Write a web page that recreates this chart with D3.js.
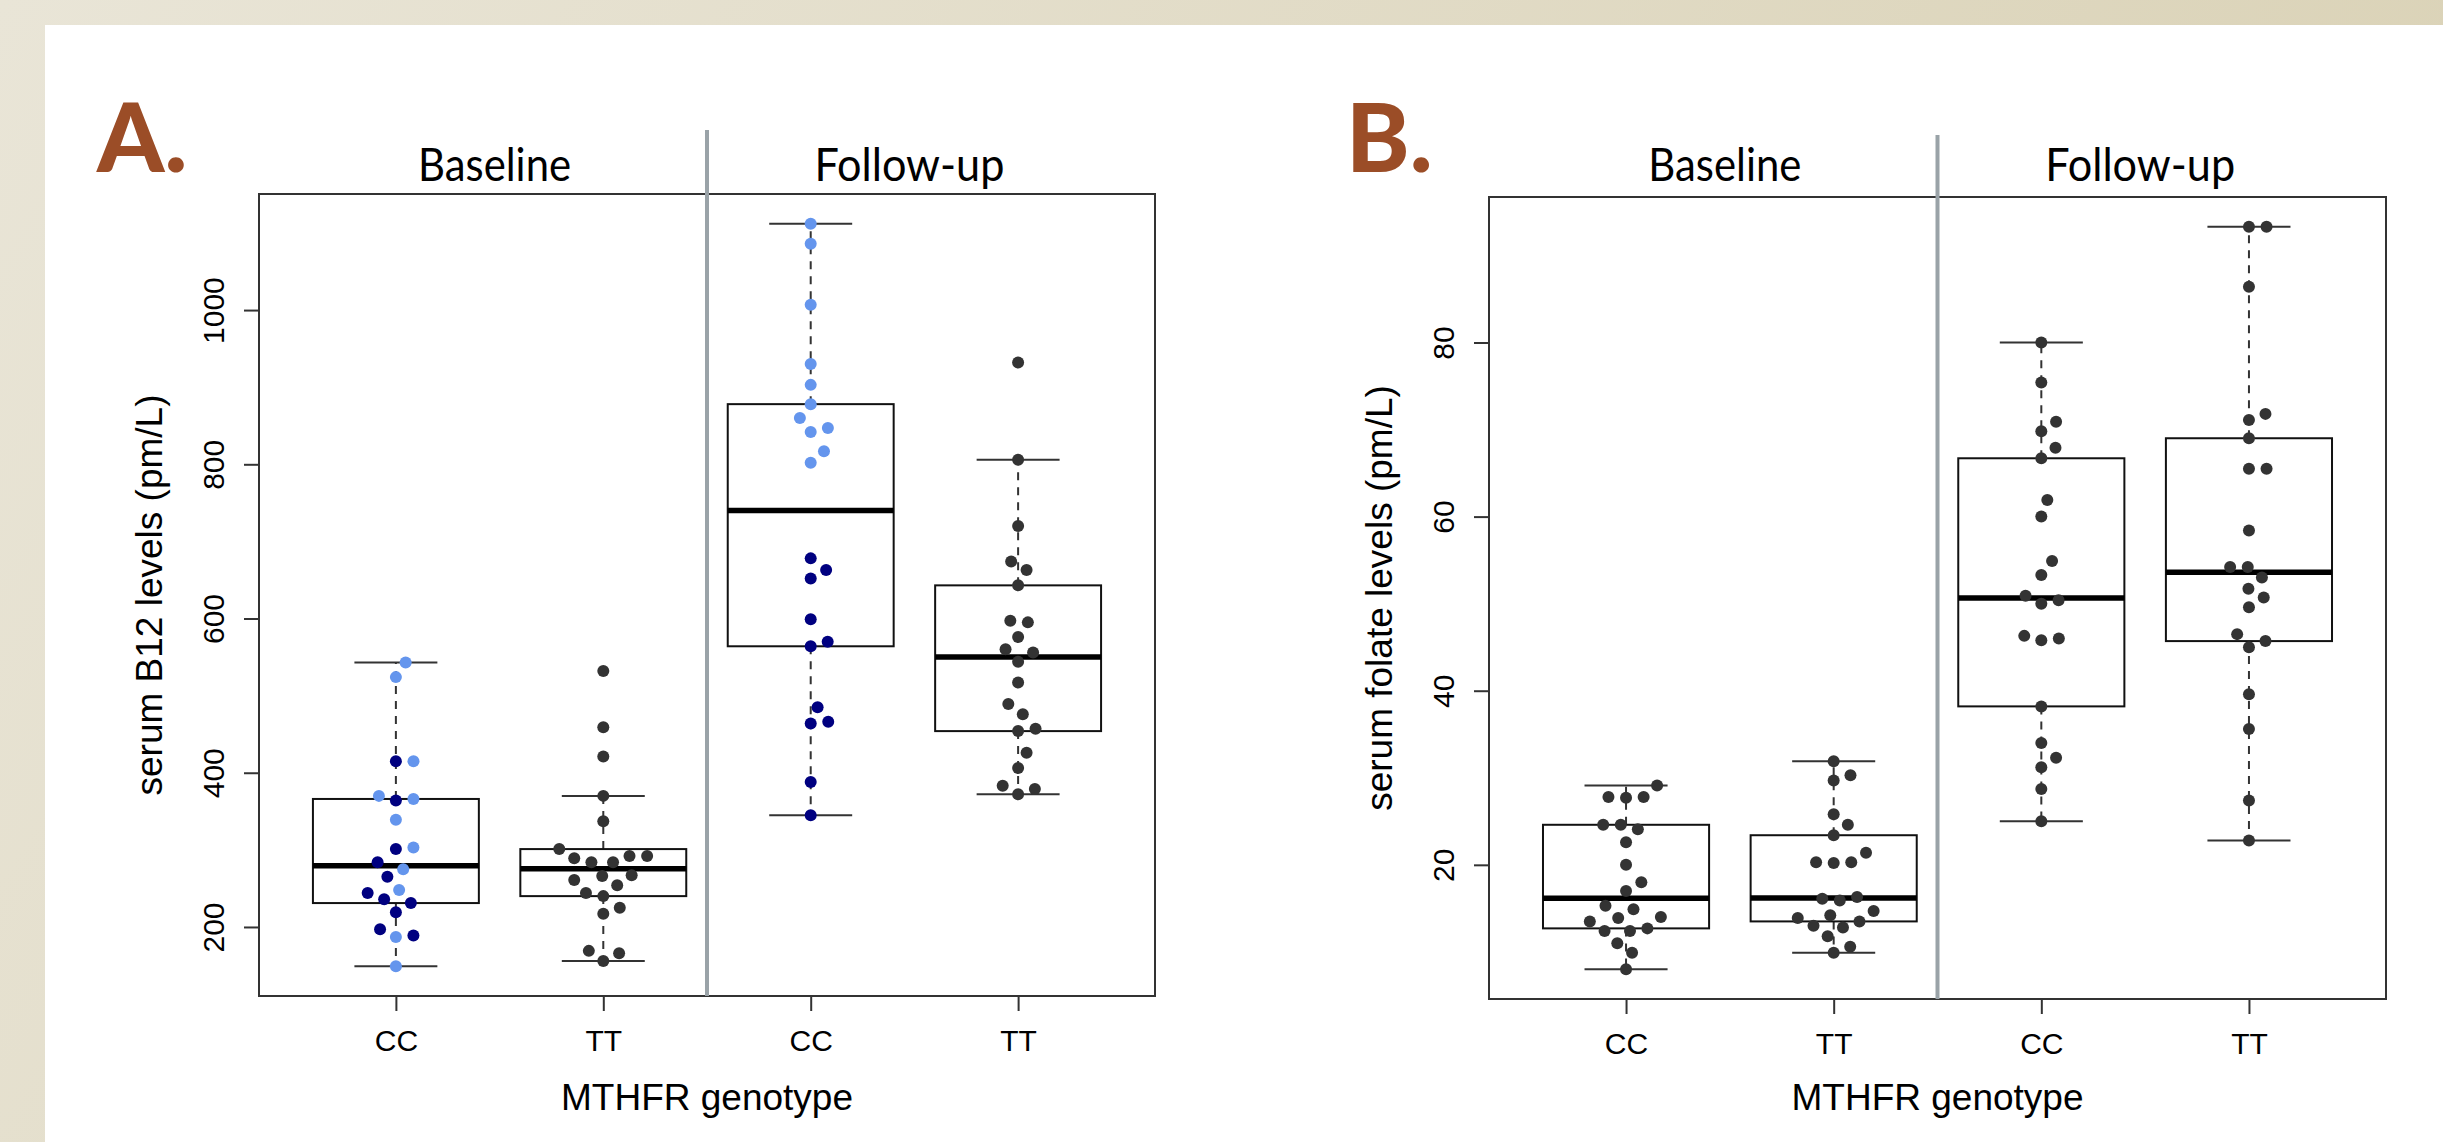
<!DOCTYPE html>
<html>
<head>
<meta charset="utf-8">
<script src="https://cdn.jsdelivr.net/npm/d3@7"></script>
<style>
  body { margin: 0; background: #fff; }
  svg { display: block; }
  .tick text { font-family: "Liberation Sans", Arial, sans-serif; font-size: 30px; fill: #000; }
  .tick line { stroke: #333; stroke-width: 2px; }
  .axis-title { font-family: "Liberation Sans", Arial, sans-serif; font-size: 37px; fill: #000; }
  .period { font-family: Lato, "Open Sans", sans-serif; font-size: 46px; fill: #000; }
  .panel-letter { font-family: Lato, sans-serif; font-weight: 900; font-size: 96px; fill: #9b4d27; }
</style>
</head>
<body>
<svg id="chart" width="2443" height="1142"></svg>
<script>
// categories
const genotypes = ["CC", "TT", "CC", "TT"];
const periods = ["Baseline", "Follow-up"];

// panel A: serum B12 (pm/L)
const b12BaseCCNavy  = [415, 364, 301, 284, 265, 244, 236, 231, 219, 197, 189];
const b12BaseCCLight = [543, 524, 415, 370, 366, 339, 303, 275, 248, 187, 149];
const b12BaseTT      = [532, 459, 421, 370, 337, 301, 292, 289, 292, 284, 284, 267, 266, 261, 254, 244, 240, 225, 217, 169, 166, 156];
const b12FollowCCNavy  = [678, 663, 652, 599, 570, 564, 485, 466, 464, 388, 345];
const b12FollowCCLight = [1112, 1086, 1007, 930, 903, 878, 860, 847, 842, 817, 802];
const b12FollowTT      = [932, 806, 720, 674, 663, 643, 597, 595, 576, 560, 556, 544, 517, 489, 476, 457, 454, 426, 406, 383, 379, 372];
const b12Ticks = [200, 400, 600, 800, 1000];

// panel B: serum folate (pm/L)
const folBaseCC   = [29.1, 27.8, 27.7, 27.8, 24.6, 24.6, 24.1, 22.6, 20.0, 18.0, 17.0, 15.3, 14.9, 14.0, 13.9, 13.5, 12.4, 12.4, 12.7, 11.0, 9.9, 8.0];
const folBaseTT   = [31.9, 29.7, 30.3, 25.8, 24.6, 23.4, 21.4, 20.3, 20.2, 20.3, 16.1, 16.3, 15.9, 14.7, 13.9, 13.5, 14.2, 12.8, 13.0, 11.8, 10.6, 9.9];
const folFollowCC = [80.0, 75.4, 70.9, 69.8, 67.9, 66.7, 61.9, 60.0, 54.9, 53.3, 50.9, 50.0, 50.4, 46.3, 45.8, 46.0, 38.2, 34.0, 32.3, 31.2, 28.7, 25.0];
const folFollowTT = [93.3, 93.3, 86.4, 71.8, 71.1, 69.0, 65.5, 65.5, 58.4, 54.2, 54.2, 53.0, 51.7, 50.7, 49.6, 46.5, 45.7, 45.0, 39.6, 35.6, 27.4, 22.8];
const folTicks = [20, 40, 60, 80];

const NAVY = "#000080", LIGHT = "#6495ed", GREY = "#333333";

const svg = d3.select("#chart");

// slide background
const defs = svg.append("defs");
const grad = defs.append("linearGradient").attr("id", "bg").attr("x1", "0").attr("y1", "0").attr("x2", "1").attr("y2", "0.3");
grad.append("stop").attr("offset", "0%").attr("stop-color", "#e9e5d7");
grad.append("stop").attr("offset", "100%").attr("stop-color", "#dad2b6");
svg.append("rect").attr("width", 2443).attr("height", 1142).attr("fill", "url(#bg)");
svg.append("rect").attr("x", 45).attr("y", 25).attr("width", 2443 - 45).attr("height", 1142 - 25).attr("fill", "#fff");

const pts = (vals, col) => vals.map(v => ({ v, col }));

// R style boxplot stats (fivenum hinges, 1.5 IQR whiskers)
function boxStats(vals) {
  const s = vals.slice().sort(d3.ascending), n = s.length;
  const n4 = Math.floor((n + 3) / 2) / 2;
  const at = k => 0.5 * (s[Math.floor(k) - 1] + s[Math.ceil(k) - 1]);
  const lo = at(n4), med = at((n + 1) / 2), hi = at(n + 1 - n4);
  const r = 1.5 * (hi - lo);
  return {
    lo, med, hi,
    wLo: d3.min(s.filter(v => v >= lo - r)),
    wHi: d3.max(s.filter(v => v <= hi + r))
  };
}

// beeswarm "swarm" layout: ascending order, closest free spot to centre
function swarm(ys, d) {
  const order = d3.range(ys.length).sort((a, b) => ys[b] - ys[a] || a - b);
  const placed = [], off = new Array(ys.length);
  order.forEach(i => {
    const y = ys[i];
    const near = placed.filter(p => Math.abs(p.y - y) < d);
    const cands = [0];
    near.forEach(p => {
      const w = Math.sqrt(d * d - (p.y - y) ** 2);
      cands.push(p.x + w, p.x - w);
    });
    const ok = cands.filter(c => near.every(p => (c - p.x) ** 2 + (y - p.y) ** 2 >= d * d - 1e-6));
    ok.sort((a, b) => (Math.abs(Math.abs(a) - Math.abs(b)) > 1e-9 ? Math.abs(a) - Math.abs(b) : b - a));
    off[i] = ok[0];
    placed.push({ x: ok[0], y });
  });
  return off;
}

function drawPanel(cfg) {
  const { left, top, right, bottom } = cfg.plot;
  const g = svg.append("g");

  const allVals = cfg.groups.flat().map(p => p.v);
  const [mn, mx] = d3.extent(allVals);
  const pad = 0.04 * (mx - mn);
  const y = d3.scaleLinear().domain([mn - pad, mx + pad]).range([bottom, top]);
  const x = d3.scaleLinear().domain([0.5 - 0.16, 4.5 + 0.16]).range([left, right]);
  const unit = x(2) - x(1);

  // panel letter
  g.append("text").attr("class", "panel-letter").attr("x", cfg.letterX).attr("y", 172).text(cfg.letter);

  // period labels
  const labelLen = [153, 190];
  periods.forEach((p, i) => {
    g.append("text").attr("class", "period")
      .attr("x", x(1.5 + 2 * i) - 5).attr("y", 181).attr("text-anchor", "middle")
      .attr("textLength", labelLen[i]).attr("lengthAdjust", "spacingAndGlyphs").text(p);
  });

  // boxes
  cfg.groups.forEach((grp, i) => {
    const pos = i + 1, st = boxStats(grp.map(p => p.v));
    const bw = 0.8 * unit, cw = 0.4 * unit, cx = x(pos);
    const bg = g.append("g");
    bg.append("line").attr("x1", cx).attr("x2", cx).attr("y1", y(st.hi)).attr("y2", y(st.wHi))
      .attr("stroke", GREY).attr("stroke-width", 2).attr("stroke-dasharray", "8,7");
    bg.append("line").attr("x1", cx).attr("x2", cx).attr("y1", y(st.lo)).attr("y2", y(st.wLo))
      .attr("stroke", GREY).attr("stroke-width", 2).attr("stroke-dasharray", "8,7");
    [st.wHi, st.wLo].forEach(w => {
      bg.append("line").attr("x1", cx - cw / 2).attr("x2", cx + cw / 2).attr("y1", y(w)).attr("y2", y(w))
        .attr("stroke", GREY).attr("stroke-width", 2);
    });
    bg.append("rect").attr("x", cx - bw / 2).attr("y", y(st.hi)).attr("width", bw).attr("height", y(st.lo) - y(st.hi))
      .attr("fill", "none").attr("stroke", "#111").attr("stroke-width", 2);
    bg.append("line").attr("x1", cx - bw / 2).attr("x2", cx + bw / 2).attr("y1", y(st.med)).attr("y2", y(st.med))
      .attr("stroke", "#000").attr("stroke-width", 5.5);
  });

  // points
  cfg.groups.forEach((grp, i) => {
    const ys = grp.map(p => y(p.v));
    const off = swarm(ys, 17.6);
    g.append("g").selectAll("circle").data(grp).join("circle")
      .attr("cx", (p, j) => x(i + 1) + off[j])
      .attr("cy", p => y(p.v))
      .attr("r", 6)
      .attr("fill", p => p.col);
  });

  // frame
  g.append("rect").attr("x", left).attr("y", top).attr("width", right - left).attr("height", bottom - top)
    .attr("fill", "none").attr("stroke", "#333").attr("stroke-width", 2);

  // divider between periods
  g.append("line").attr("x1", x(2.5)).attr("x2", x(2.5)).attr("y1", cfg.dividerTop).attr("y2", bottom)
    .attr("stroke", "#9aa3a8").attr("stroke-width", 4);

  // y axis
  const ya = g.append("g").attr("transform", `translate(${left},0)`)
    .call(d3.axisLeft(y).tickValues(cfg.ticks).tickSize(15).tickFormat(d3.format("d")));
  ya.select(".domain").remove();
  ya.selectAll(".tick text").attr("transform", "rotate(-90)").attr("x", 0).attr("y", -35).attr("dy", 0)
    .attr("text-anchor", "middle");

  // x axis
  const xa = g.append("g").attr("transform", `translate(0,${bottom})`)
    .call(d3.axisBottom(x).tickValues([1, 2, 3, 4]).tickSize(15).tickPadding(19).tickFormat(d => genotypes[d - 1]));
  xa.select(".domain").remove();

  // axis titles
  g.append("text").attr("class", "axis-title").attr("text-anchor", "middle")
    .attr("x", (left + right) / 2).attr("y", 1110).text("MTHFR genotype");
  const ty = (top + bottom) / 2, tx = left - 97;
  g.append("text").attr("class", "axis-title").attr("text-anchor", "middle")
    .attr("transform", `rotate(-90,${tx},${ty})`).attr("x", tx).attr("y", ty).text(cfg.yTitle);
}

drawPanel({
  letter: "A.", letterX: 97,
  plot: { left: 259, top: 194, right: 1155, bottom: 996 },
  dividerTop: 130,
  ticks: b12Ticks,
  yTitle: "serum B12 levels (pm/L)",
  groups: [
    [...pts(b12BaseCCNavy, NAVY), ...pts(b12BaseCCLight, LIGHT)],
    pts(b12BaseTT, GREY),
    [...pts(b12FollowCCNavy, NAVY), ...pts(b12FollowCCLight, LIGHT)],
    pts(b12FollowTT, GREY)
  ]
});

drawPanel({
  letter: "B.", letterX: 1346,
  plot: { left: 1489, top: 197, right: 2386, bottom: 999 },
  dividerTop: 135,
  ticks: folTicks,
  yTitle: "serum folate levels (pm/L)",
  groups: [
    pts(folBaseCC, GREY),
    pts(folBaseTT, GREY),
    pts(folFollowCC, GREY),
    pts(folFollowTT, GREY)
  ]
});
</script>
</body>
</html>
